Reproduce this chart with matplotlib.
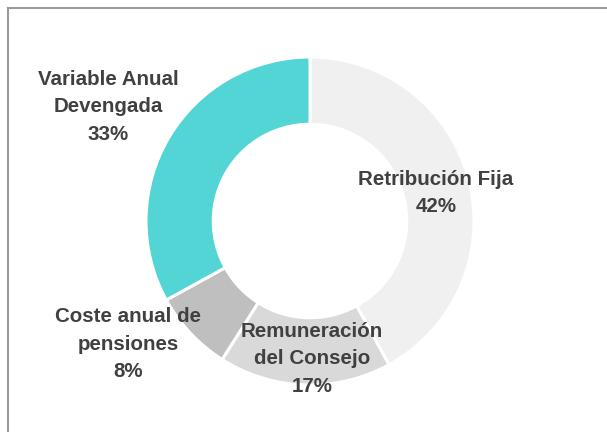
import matplotlib
matplotlib.use("Agg")
import matplotlib.pyplot as plt
from matplotlib.lines import Line2D

labels = ["Retribución Fija", "Remuneración\ndel Consejo", "Coste anual de\npensiones", "Variable Anual\nDevengada"]
values = [42, 17, 8, 33]
colors = ["#f0f0f0", "#d9d9d9", "#bfbfbf", "#53d5d5"]
label_pos = [(436, 193), (312, 359), (128, 344), (108, 107)]  # pixel centres

W, H = 607, 432
fig = plt.figure(figsize=(W / 100, H / 100), dpi=100)
fig.patch.set_facecolor("white")

cx, cy, R = 310, 221, 164
ax = fig.add_axes([(cx - R) / W, (H - cy - R) / H, 2 * R / W, 2 * R / H])

ax.pie(values, colors=colors, startangle=90, counterclock=False, radius=1,
       wedgeprops=dict(width=0.41, edgecolor="white", linewidth=2.2))
ax.set_xlim(-1, 1)
ax.set_ylim(-1, 1)
ax.set_aspect("equal")
ax.axis("off")

font = ["Liberation Sans Narrow", "Liberation Sans", "DejaVu Sans"]
for lab, v, (px, py) in zip(labels, values, label_pos):
    fig.text(px / W, 1 - py / H, f"{lab}\n{v}%", ha="center", va="center",
             fontsize=14.8, fontweight="bold", color="#404040", family=font,
             linespacing=1.57)

# frame lines (left and top)
fig.add_artist(Line2D([7.5 / W, 7.5 / W], [0, 1 - 7.5 / H], transform=fig.transFigure,
                      color="#9a9a9a", linewidth=1.5))
fig.add_artist(Line2D([7.5 / W, 1], [1 - 7.5 / H, 1 - 7.5 / H], transform=fig.transFigure,
                      color="#9a9a9a", linewidth=1.5))

fig.savefig("out.png", dpi=100, facecolor="white")
